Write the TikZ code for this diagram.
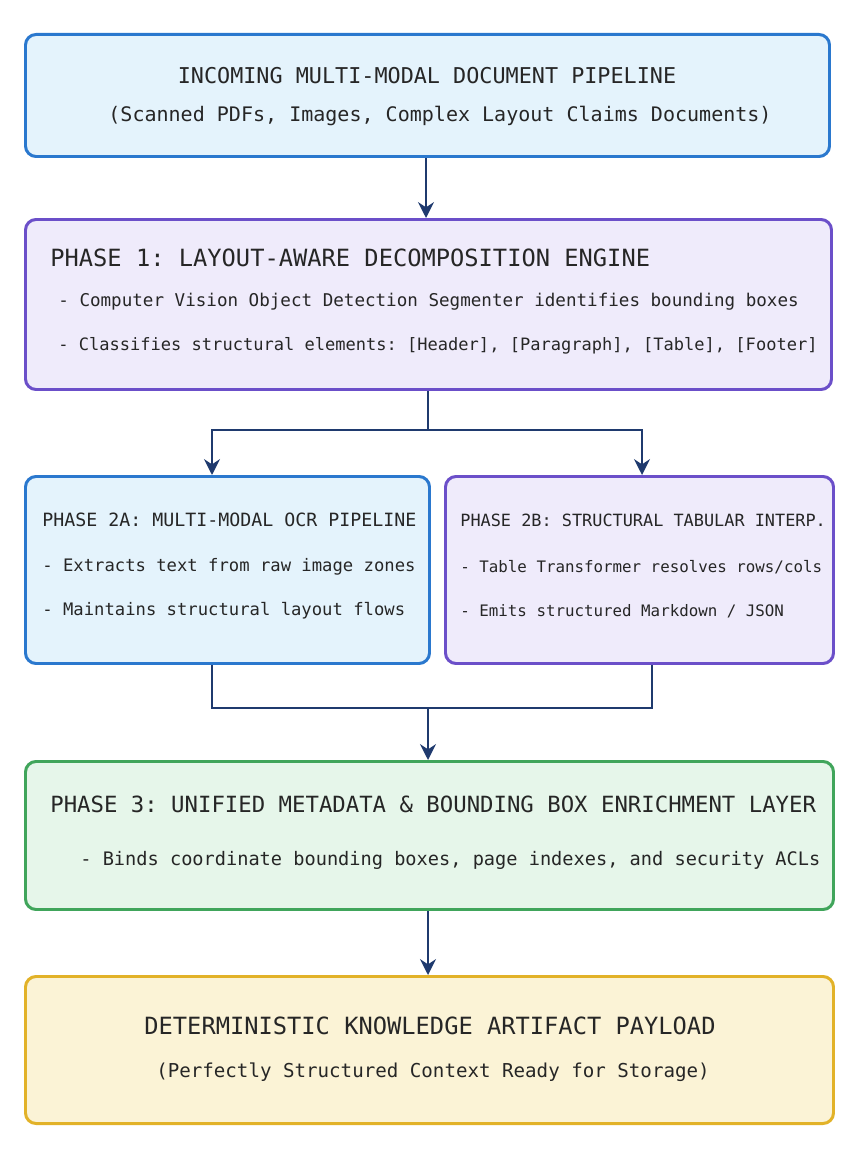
\documentclass[tikz,border=0pt]{standalone}
\usepackage{fontspec}
\setmonofont{DejaVu Sans Mono}
\usetikzlibrary{arrows.meta,positioning,calc}
\definecolor{bluefill}{HTML}{E4F3FC}
\definecolor{blueline}{HTML}{2A78CE}
\definecolor{purpfill}{HTML}{EFEBFB}
\definecolor{purpline}{HTML}{6B4FC9}
\definecolor{greenfill}{HTML}{E6F6EA}
\definecolor{greenline}{HTML}{40A55B}
\definecolor{yelfill}{HTML}{FBF3D6}
\definecolor{yelline}{HTML}{E2B228}
\definecolor{navy}{HTML}{1F3A6E}
\begin{document}
\begin{tikzpicture}[
    x=0.02cm, y=-0.02cm,
    font=\ttfamily, text=black!85,
    box/.style={rectangle, rounded corners=6pt, line width=1.7pt, anchor=north west},
    bluebox/.style={box, draw=blueline, fill=bluefill},
    purpbox/.style={box, draw=purpline, fill=purpfill},
    greenbox/.style={box, draw=greenline, fill=greenfill},
    yelbox/.style={box, draw=yelline, fill=yelfill},
    txt/.style={anchor=west, inner sep=0pt},
    arrow/.style={-{Stealth[length=9pt,width=9pt]}, line width=1.4pt, draw=navy},
    link/.style={line width=1.4pt, draw=navy}
]
    \useasboundingbox (0,0) rectangle (856,1176);

    % boxes
    \node (incoming) [bluebox, minimum width=804*0.02cm, minimum height=122*0.02cm] at (24,33) {};
    \node (phase1) [purpbox, minimum width=806*0.02cm, minimum height=170*0.02cm] at (24,218) {};
    \node (phase2a) [bluebox, minimum width=404*0.02cm, minimum height=187*0.02cm] at (24,475) {};
    \node (phase2b) [purpbox, minimum width=388*0.02cm, minimum height=187*0.02cm] at (444,475) {};
    \node (phase3) [greenbox, minimum width=808*0.02cm, minimum height=148*0.02cm] at (24,760) {};
    \node (payload) [yelbox, minimum width=808*0.02cm, minimum height=147*0.02cm] at (24,975) {};

    % texts
    \node (incT) [inner sep=0pt, font=\ttfamily\fontsize{12.4}{14}\selectfont] at (427,76) {INCOMING MULTI-MODAL DOCUMENT PIPELINE};
    \node (incS) [inner sep=0pt, font=\ttfamily\fontsize{11.4}{14}\selectfont] at (440,116) {(Scanned PDFs, Images, Complex Layout Claims Documents)};

    \node (p1T) [txt, font=\ttfamily\fontsize{13.5}{16}\selectfont] at (50,258) {PHASE 1: LAYOUT-AWARE DECOMPOSITION ENGINE};
    \node (p1A) [txt, font=\ttfamily\fontsize{10}{12}\selectfont] at (58,302) {- Computer Vision Object Detection Segmenter identifies bounding boxes};
    \node (p1B) [txt, font=\ttfamily\fontsize{9.7}{12}\selectfont] at (58,346) {- Classifies structural elements: [Header], [Paragraph], [Table], [Footer]};

    \node (p2aT) [txt, font=\ttfamily\fontsize{10.4}{12}\selectfont] at (42,520) {PHASE 2A: MULTI-MODAL OCR PIPELINE};
    \node (p2aA) [txt, font=\ttfamily\fontsize{9.8}{12}\selectfont] at (42,567) {- Extracts text from raw image zones};
    \node (p2aB) [txt, font=\ttfamily\fontsize{9.8}{12}\selectfont] at (42,611) {- Maintains structural layout flows};

    \node (p2bT) [txt, font=\ttfamily\fontsize{9.6}{12}\selectfont] at (460,520) {PHASE 2B: STRUCTURAL TABULAR INTERP.};
    \node (p2bA) [txt, font=\ttfamily\fontsize{9.0}{12}\selectfont] at (460,567) {- Table Transformer resolves rows/cols};
    \node (p2bB) [txt, font=\ttfamily\fontsize{9.0}{12}\selectfont] at (460,611) {- Emits structured Markdown / JSON};

    \node (p3T) [txt, font=\ttfamily\fontsize{12.7}{15}\selectfont] at (50,804) {PHASE 3: UNIFIED METADATA \& BOUNDING BOX ENRICHMENT LAYER};
    \node (p3A) [txt, font=\ttfamily\fontsize{10.6}{13}\selectfont] at (80,860) {- Binds coordinate bounding boxes, page indexes, and security ACLs};

    \node (payT) [inner sep=0pt, font=\ttfamily\fontsize{13.5}{16}\selectfont] at (430,1026) {DETERMINISTIC KNOWLEDGE ARTIFACT PAYLOAD};
    \node (payS) [inner sep=0pt, font=\ttfamily\fontsize{10.9}{13}\selectfont] at (433,1072) {(Perfectly Structured Context Ready for Storage)};

    % connectors
    \coordinate (split) at (428,430);
    \coordinate (merge) at (428,708);
    \draw [arrow] (incoming.south -| 426,0) -- (phase1.north -| 426,0);
    \draw [link] (phase1.south -| split) -- (split);
    \draw [arrow] (split) -| (phase2a.north -| 212,0);
    \draw [arrow] (split) -| (phase2b.north -| 642,0);
    \draw [link] (phase2a.south -| 212,0) |- (merge);
    \draw [link] (phase2b.south -| 652,0) |- (merge);
    \draw [arrow] (merge) -- (phase3.north -| merge);
    \draw [arrow] (phase3.south -| 428,0) -- (payload.north -| 428,0);
\end{tikzpicture}
\end{document}
